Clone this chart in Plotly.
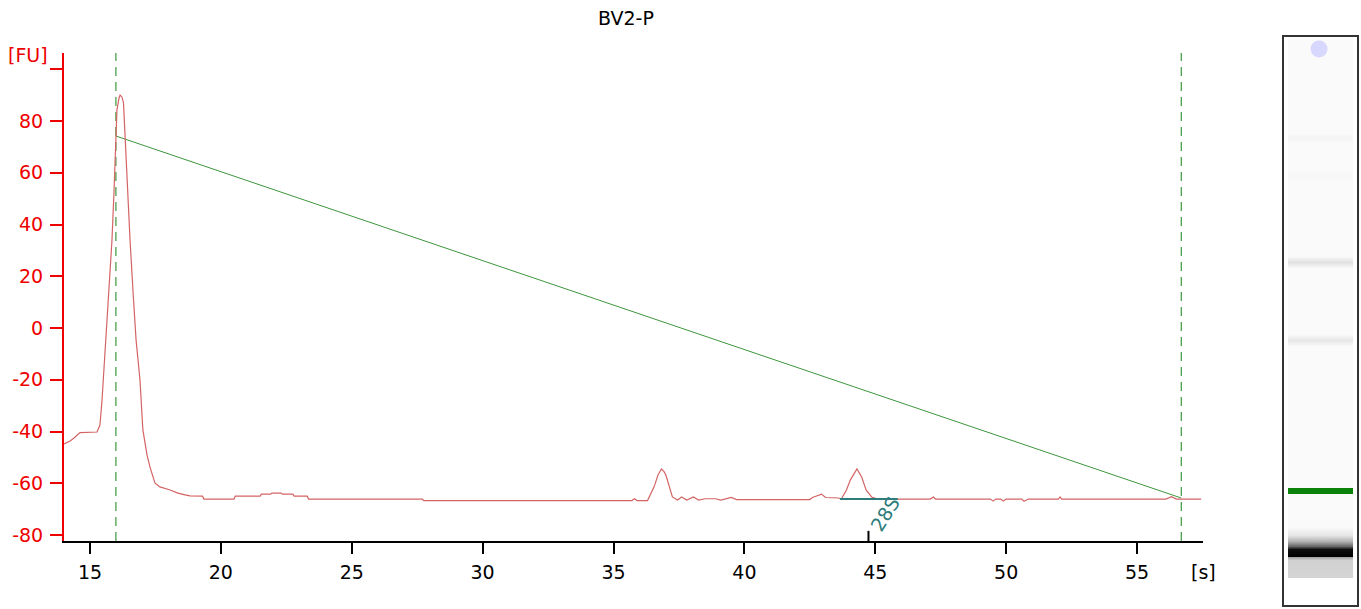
import plotly.graph_objects as go

# ---------------- data ----------------
title_text = "BV2-P"

# electropherogram trace: time [s] and fluorescence [FU]
trace_t = [14.01, 14.24, 14.39, 14.62, 15.27, 15.38, 15.46, 15.53, 15.65, 15.76, 15.84, 15.92,
           15.97, 16.03, 16.11, 16.15, 16.22, 16.28, 16.36, 16.45, 16.53, 16.64, 16.76, 16.91,
           17.02, 17.18, 17.29, 17.48, 17.67, 18.06, 18.36, 18.63, 18.82,
           19.30, 19.35, 20.50, 20.55, 21.50, 21.55, 21.90, 21.95, 22.30, 22.35, 22.75, 22.80,
           23.30, 23.35, 27.70, 27.75, 35.70, 35.80, 35.90, 36.30, 36.55, 36.70, 36.83, 36.93,
           37.00, 37.12, 37.25, 37.45, 37.60, 37.80, 38.05, 38.25, 38.50, 38.90, 39.10, 39.50,
           39.70, 42.50, 42.60, 42.95, 43.10, 43.60, 43.70, 43.90, 44.05, 44.30, 44.48, 44.65,
           44.86, 45.10, 47.10, 47.22, 47.30, 49.40, 49.50, 49.60, 49.80, 49.89, 50.00, 50.60,
           50.68, 50.85, 52.00, 52.06, 52.12, 56.10, 56.32, 56.50, 57.45]
trace_fu = [-44.8, -43.7, -42.5, -40.4, -40.2, -37.5, -27.8, -16.2, 3.1, 22.4, 34.0, 53.3,
            70.0, 84.3, 88.9, 90.0, 89.3, 87.0, 70.0, 49.5, 34.0, 14.7, -4.6, -20.1,
            -39.4, -49.1, -53.7, -59.9, -61.4, -62.6, -63.8, -64.5, -64.9,
            -65.0, -66.1, -66.1, -65.0, -65.0, -64.2, -64.2, -63.8, -63.8, -64.2, -64.2, -65.0,
            -65.0, -66.1, -66.1, -66.7, -66.7, -66.0, -66.7, -66.7, -61.4, -56.8, -54.5, -55.5,
            -56.8, -61.4, -65.3, -66.5, -65.3, -66.5, -65.3, -66.5, -66.0, -66.0, -66.5, -65.5,
            -66.3, -66.3, -65.5, -64.2, -65.5, -65.7, -66.1, -62.6, -58.7, -54.5, -57.6, -62.6,
            -65.3, -66.1, -66.1, -65.3, -66.1, -66.1, -66.9, -66.1, -66.1, -66.9, -66.1, -66.1,
            -67.0, -66.1, -66.1, -65.3, -66.1, -66.1, -65.2, -66.1, -66.1]

# analysis region (dashed markers) and the diagonal guide line
region_t = [15.99, 56.69]
diag_fu = [74.2, -65.7]

# peak annotation
peak_label = "28S"
peak_base_t = [43.65, 45.86]
peak_base_fu = [-66.1, -66.1]
peak_marker_t = 44.74
peak_label_pos = (45.37, -71.9)

# axes
x_range = [14.007, 57.52]
y_range = [-82.32, 106.28]
x_ticks = [15, 20, 25, 30, 35, 40, 45, 50, 55]
y_ticks = [-80, -60, -40, -20, 0, 20, 40, 60, 80, 100]
y_ticktext = ["-80", "-60", "-40", "-20", "0", "20", "40", "60", "80", ""]

# gel lane profile: position from lane top [px units] and darkness (0 white..1 black)
lane_pos = [0, 96, 101, 106, 133, 138, 143, 219, 225, 231, 297, 303, 309,
            490, 498, 504, 509, 512, 519, 520, 523, 538, 540]
lane_int = [0.02, 0.02, 0.045, 0.02, 0.02, 0.035, 0.02, 0.02, 0.12, 0.02, 0.02, 0.1, 0.02,
            0.02, 0.1, 0.3, 0.6, 0.95, 1.0, 0.35, 0.18, 0.17, 0.17]
lane_marker_pos = 454      # green marker band
lane_well_pos = 12         # loading well blob

# ---------------- figure ----------------
W, H = 1361, 609
FONT = "DejaVu Sans"
RED = "#ee0000"
TRACE = "#d46464"
GREEN = "#3c963c"
TEAL = "#2e7d7d"

fig = go.Figure()

# dashed region boundaries
for t in region_t:
    fig.add_trace(go.Scatter(x=[t, t], y=y_range, mode="lines",
                             line=dict(color="#2a8f2a", width=1.1, dash="9px,6px"),
                             hoverinfo="skip", showlegend=False))

# diagonal guide
fig.add_trace(go.Scatter(x=region_t, y=diag_fu, mode="lines",
                         line=dict(color=GREEN, width=1), showlegend=False))

# electropherogram
fig.add_trace(go.Scatter(x=trace_t, y=trace_fu, mode="lines",
                         line=dict(color=TRACE, width=1.2), showlegend=False))

# peak baseline
fig.add_trace(go.Scatter(x=peak_base_t, y=peak_base_fu, mode="lines",
                         line=dict(color=TEAL, width=2), showlegend=False))

# peak marker tick on the x axis
fig.add_trace(go.Scatter(x=[peak_marker_t, peak_marker_t], y=[y_range[0], -78.4], mode="lines",
                         line=dict(color="black", width=2), cliponaxis=False, showlegend=False))

fig.add_annotation(x=peak_label_pos[0], y=peak_label_pos[1], text=peak_label, showarrow=False,
                   textangle=-58, font=dict(family=FONT, size=19, color=TEAL),
                   xref="x", yref="y", xanchor="center", yanchor="middle")

# gel lane
fig.add_trace(go.Heatmap(x=[0.2775, 0.7225], y=lane_pos,
                         z=[[v, v] for v in lane_int],
                         colorscale=[[0, "#ffffff"], [1, "#000000"]], zmin=0, zmax=1,
                         zsmooth="best", showscale=False, xaxis="x2", yaxis="y2",
                         hoverinfo="skip"))
fig.add_trace(go.Scatter(x=[0.055, 0.945], y=[lane_marker_pos, lane_marker_pos], mode="lines",
                         line=dict(color="#0a820a", width=6), xaxis="x2", yaxis="y2",
                         showlegend=False))
fig.add_trace(go.Scatter(x=[0.48], y=[lane_well_pos], mode="markers",
                         marker=dict(color="#d8d8ff", size=17, line=dict(width=0)),
                         xaxis="x2", yaxis="y2", showlegend=False))

x_dom = [64 / W, 1203 / W]
y_dom = [(H - 541) / H, (H - 53) / H]

fig.update_layout(
    width=W, height=H, autosize=False,
    margin=dict(l=0, r=0, t=0, b=0),
    paper_bgcolor="white", plot_bgcolor="white",
    font=dict(family=FONT, size=19, color="black"),
    xaxis=dict(domain=x_dom, range=x_range, tickvals=x_ticks, ticks="outside",
               ticklen=11, tickwidth=2, tickcolor="black", showline=True, linecolor="black",
               linewidth=2, showgrid=False, zeroline=False, automargin=False,
               ticklabelstandoff=2,
               tickfont=dict(family=FONT, size=19, color="black")),
    yaxis=dict(domain=y_dom, range=y_range, tickvals=y_ticks, ticktext=y_ticktext,
               ticks="outside", ticklen=12, tickwidth=2, tickcolor=RED, showline=True,
               linecolor=RED, linewidth=2, showgrid=False, zeroline=False, automargin=False,
               ticklabelstandoff=3,
               tickfont=dict(family=FONT, size=19, color=RED)),
    xaxis2=dict(domain=[1284 / W, 1357 / W], range=[0, 1], showline=True, mirror=True,
                linecolor="#333333", linewidth=1.5, showticklabels=False, ticks="",
                showgrid=False, zeroline=False, anchor="y2", automargin=False),
    yaxis2=dict(domain=[(H - 605) / H, (H - 37) / H], range=[568, 0], showline=True,
                mirror=True, linecolor="#333333", linewidth=1.5, showticklabels=False,
                ticks="", showgrid=False, zeroline=False, anchor="x2", automargin=False),
    showlegend=False,
)

# title and unit labels
fig.add_annotation(x=626 / W, y=(H - 18) / H, xref="paper", yref="paper", text=title_text,
                   showarrow=False, xanchor="center", yanchor="middle",
                   font=dict(family=FONT, size=19, color="black"))
fig.add_annotation(x=28 / W, y=(H - 55) / H, xref="paper", yref="paper", text="[FU]",
                   showarrow=False, xanchor="center", yanchor="middle",
                   font=dict(family=FONT, size=19, color=RED))
fig.add_annotation(x=1203 / W, y=(H - 572) / H, xref="paper", yref="paper", text="[s]",
                   showarrow=False, xanchor="center", yanchor="middle",
                   font=dict(family=FONT, size=19, color="black"))

fig.write_html("out.html", config={"displayModeBar": False},
               post_script="document.body.style.margin='0';document.body.style.overflow='hidden';")
